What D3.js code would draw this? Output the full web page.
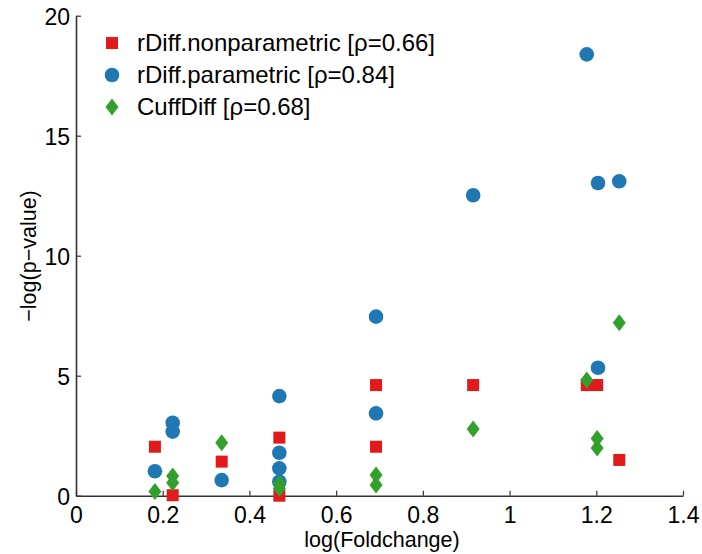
<!DOCTYPE html>
<html>
<head>
<meta charset="utf-8">
<script src="https://cdn.jsdelivr.net/npm/d3@7/dist/d3.min.js"></script>
<style>
  html, body { margin: 0; padding: 0; background: #fff; }
  svg { display: block; }
  text { font-family: "Liberation Sans", Arial, Helvetica, sans-serif; fill: #000; }
</style>
</head>
<body>
<svg id="chart" width="702" height="554"></svg>
<script>
// ---- data ----
const seriesNames = ["rDiff.nonparametric [ρ=0.66]", "rDiff.parametric [ρ=0.84]", "CuffDiff [ρ=0.68]"];
const seriesColors = ["#e31a1c", "#1f78b4", "#33a02c"];
const seriesShapes = ["square", "circle", "diamond"];

const nonparamX = [0.182, 0.223, 0.336, 0.469, 0.469, 0.692, 0.692, 0.916, 1.178, 1.202, 1.253];
const nonparamY = [2.04, 0.02, 1.42, 2.42, 0.0, 4.61, 2.04, 4.61, 4.61, 4.61, 1.49];

const paramX = [0.182, 0.223, 0.223, 0.336, 0.469, 0.469, 0.469, 0.469, 0.692, 0.692, 0.916, 1.178, 1.204, 1.253, 1.204];
const paramY = [1.02, 3.04, 2.67, 0.65, 4.15, 1.79, 1.14, 0.58, 3.43, 7.46, 12.52, 18.39, 13.03, 13.1, 5.33];

const cuffX = [0.182, 0.223, 0.223, 0.336, 0.469, 0.469, 0.692, 0.692, 0.916, 1.178, 1.202, 1.202, 1.253];
const cuffY = [0.17, 0.82, 0.54, 2.21, 0.5, 0.3, 0.86, 0.45, 2.78, 4.82, 2.38, 1.99, 7.21];

const xTicks = [0, 0.2, 0.4, 0.6, 0.8, 1, 1.2, 1.4];
const yTicks = [0, 5, 10, 15, 20];
const xLabel = "log(Foldchange)";
const yLabel = "−log(p−value)";

// ---- layout ----
const svg = d3.select("#chart");
const x = d3.scaleLinear().domain([0, 1.4]).range([76, 683]);
const y = d3.scaleLinear().domain([0, 20]).range([495.7, 15.7]);

// axes
const xAxis = d3.axisBottom(x).tickValues(xTicks).tickFormat(d3.format("~g")).tickSizeInner(-5).tickSizeOuter(0).tickPadding(11);
const yAxis = d3.axisLeft(y).tickValues(yTicks).tickFormat(d3.format("~g")).tickSizeInner(-5).tickSizeOuter(0).tickPadding(6);

const gx = svg.append("g").attr("transform", `translate(0,${y(0)})`).call(xAxis);
const gy = svg.append("g").attr("transform", `translate(${x(0)},0)`).call(yAxis);
[gx, gy].forEach(g => {
  g.select(".domain").attr("stroke", "#333").attr("stroke-width", 1.6);
  g.selectAll(".tick line").attr("stroke", "#333").attr("stroke-width", 1.2);
  g.selectAll(".tick text").attr("font-size", 23).attr("font-family", "Liberation Sans, Arial, sans-serif").attr("fill", "#000");
});
gy.selectAll(".tick text").attr("dy", "0.4em");

// axis labels
svg.append("text").attr("x", 382).attr("y", 547).attr("text-anchor", "middle").attr("font-size", 21.5).text(xLabel);
svg.append("text").attr("transform", "translate(36,256) rotate(-90)").attr("text-anchor", "middle").attr("font-size", 21.5).text(yLabel);

// marker drawing
function marker(g, shape, color) {
  if (shape === "square") {
    g.append("rect").attr("x", -6).attr("y", -6).attr("width", 12).attr("height", 12).attr("fill", color);
  } else if (shape === "circle") {
    g.append("circle").attr("r", 7.3).attr("fill", color);
  } else {
    g.append("path").attr("d", "M0,-8.5L6.5,0L0,8.5L-6.5,0Z").attr("fill", color);
  }
}

const seriesData = [
  d3.zip(nonparamX, nonparamY),
  d3.zip(paramX, paramY),
  d3.zip(cuffX, cuffY)
];

const plot = svg.append("g");
seriesData.forEach((pts, i) => {
  pts.forEach(([a, b]) => {
    const g = plot.append("g").attr("transform", `translate(${x(a)},${y(b)})`);
    marker(g, seriesShapes[i], seriesColors[i]);
  });
});

// legend
const legend = svg.append("g");
seriesNames.forEach((name, i) => {
  const ly = 43 + i * 32;
  const g = legend.append("g").attr("transform", `translate(112,${ly})`);
  marker(g, seriesShapes[i], seriesColors[i]);
  legend.append("text").attr("x", 137).attr("y", ly + 8).attr("font-size", 24).text(name);
});
</script>
</body>
</html>
